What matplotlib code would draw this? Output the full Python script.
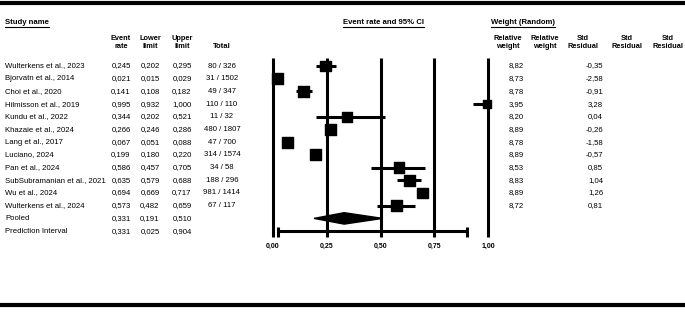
import matplotlib
matplotlib.use("Agg")
import matplotlib.pyplot as plt
from matplotlib import font_manager
from matplotlib.patches import Polygon

# forest plot data
studies = ["Wulterkens et al., 2023", "Bjorvatn et al., 2014", "Choi et al., 2020",
           "Hilmisson et al., 2019", "Kundu et al., 2022", "Khazaie et al., 2024",
           "Lang et al., 2017", "Luciano, 2024", "Pan et al., 2024",
           "SubSubramanian et al., 2021", "Wu et al., 2024", "Wulterkens et al., 2024"]
event_rate = [0.245, 0.021, 0.141, 0.995, 0.344, 0.266, 0.067, 0.199, 0.586, 0.635, 0.694, 0.573]
lower = [0.202, 0.015, 0.108, 0.932, 0.202, 0.246, 0.051, 0.180, 0.457, 0.579, 0.669, 0.482]
upper = [0.295, 0.029, 0.182, 1.000, 0.521, 0.286, 0.088, 0.220, 0.705, 0.688, 0.717, 0.659]
totals = ["80 / 326", "31 / 1502", "49 / 347", "110 / 110", "11 / 32", "480 / 1807",
          "47 / 700", "314 / 1574", "34 / 58", "188 / 296", "981 / 1414", "67 / 117"]
rel_weight = [8.82, 8.73, 8.78, 3.95, 8.20, 8.89, 8.78, 8.89, 8.53, 8.83, 8.89, 8.72]
std_resid = [-0.35, -2.58, -0.91, 3.28, 0.04, -0.26, -1.58, -0.57, 0.85, 1.04, 1.26, 0.81]

pooled = (0.331, 0.191, 0.510)
pred_int = (0.331, 0.025, 0.904)
ticks = [0.0, 0.25, 0.5, 0.75, 1.0]

names = {f.name for f in font_manager.fontManager.ttflist}
FONT = "Liberation Sans Narrow" if "Liberation Sans Narrow" in names else "Liberation Sans"
plt.rcParams["font.family"] = [FONT, "DejaVu Sans"]

def fmt(v, nd=3):
    return f"{v:.{nd}f}".replace(".", ",")

W, H = 685, 316
fig = plt.figure(figsize=(W / 100, H / 100), dpi=100)

# row layout: row i sits at pixel 66 + 12.7*i
y0, dy = 66, 12.7
ylim = ((H - y0) / dy, -y0 / dy)

tab = fig.add_axes([0, 0, 1, 1])
tab.set_xlim(0, W)
tab.set_ylim(*ylim)
tab.axis("off")

x0, x1 = 273, 488
ax = fig.add_axes([x0 / W, 0, (x1 - x0) / W, 1])
ax.set_xlim(0, 1)
ax.set_ylim(*ylim)
ax.axis("off")

fs = 5.6
n = len(studies)
rows = list(range(n + 2))

# borders
tab.plot([0, W], [ylim[1] + 3 / dy] * 2, color="black", lw=3, solid_capstyle="butt")
tab.plot([0, W], [ylim[1] + 305 / dy] * 2, color="black", lw=3, solid_capstyle="butt")

# headers
def hdr(x, yp, s, ha="left", underline=False, size=fs):
    t = tab.text(x, ylim[1] + yp / dy, s, ha=ha, va="center", fontsize=size, fontweight="bold")
    if underline:
        fig.canvas.draw()
        bb = t.get_window_extent().transformed(tab.transData.inverted())
        tab.plot([bb.x0, bb.x1], [ylim[1] + (yp + 4.5) / dy] * 2, color="black", lw=0.8)
    return t

hdr(5, 22, "Study name", underline=True)
hdr(384, 22, "Event rate and 95% CI", ha="center", underline=True)
hdr(491, 22, "Weight (Random)", underline=True)
for xc, a, b in [(121, "Event", "rate"), (150, "Lower", "limit"), (182, "Upper", "limit"),
                 (508, "Relative", "weight"), (545, "Relative", "weight"),
                 (583, "Std", "Residual"), (627, "Std", "Residual"), (668, "Std", "Residual")]:
    hdr(xc, 38, a, ha="center", size=5.3)
    hdr(xc, 47, b, ha="center", size=5.3)
hdr(222, 47, "Total", ha="center")

# table body
labels = studies + ["Pooled", "Prediction Interval"]
er = event_rate + [pooled[0], pred_int[0]]
lo = lower + [pooled[1], pred_int[1]]
up = upper + [pooled[2], pred_int[2]]
for i in rows:
    tab.text(5, i, labels[i], ha="left", va="center", fontsize=fs)
    tab.text(121, i, fmt(er[i]), ha="center", va="center", fontsize=fs)
    tab.text(150, i, fmt(lo[i]), ha="center", va="center", fontsize=fs)
    tab.text(182, i, fmt(up[i]), ha="center", va="center", fontsize=fs)
for i in range(n):
    tab.text(222, i, totals[i], ha="center", va="center", fontsize=fs)
    tab.text(516, i, fmt(rel_weight[i], 2), ha="center", va="center", fontsize=fs)
    tab.text(603, i, fmt(std_resid[i], 2), ha="right", va="center", fontsize=fs)

# reference lines
for t in ticks:
    ax.plot([t, t], [-0.62, n + 1.5], color="black", lw=2.2, solid_capstyle="butt", clip_on=False)
    ax.text(t, n + 2.2, fmt(t, 2), ha="center", va="center", fontsize=5, fontweight="bold")

# study CIs and squares
for i in range(n):
    ax.plot([lower[i], upper[i]], [i, i], color="black", lw=2.2, solid_capstyle="butt", clip_on=False)
ax.scatter(event_rate, range(n), s=[7.0 * w for w in rel_weight], marker="s",
           color="black", zorder=3, clip_on=False)

# pooled diamond
pr = n
ax.add_patch(Polygon([(pooled[1], pr), (pooled[0], pr - 0.45), (pooled[2], pr), (pooled[0], pr + 0.45)],
                     closed=True, color="black", zorder=3))

# prediction interval
pi = n + 1
ax.plot([pred_int[1], pred_int[2]], [pi, pi], color="black", lw=2.2, solid_capstyle="butt")
for e in (pred_int[1], pred_int[2]):
    ax.plot([e, e], [pi - 0.35, pi + 0.45], color="black", lw=2.2, solid_capstyle="butt")

fig.savefig("out.png", dpi=100)
